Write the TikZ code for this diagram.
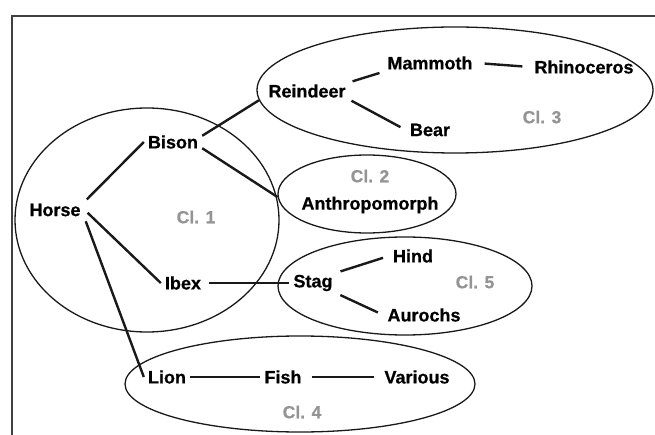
\documentclass[tikz,border=0pt]{standalone}
\usepackage{fontspec}
\setmainfont{Liberation Sans}
\newfontfamily\labelfont[FakeBold=0.6]{Liberation Sans Bold}
\usetikzlibrary{shapes.geometric}

\tikzset{
  taxon/.style={font=\labelfont\fontsize{18}{18}\selectfont, inner xsep=4pt, inner ysep=2pt},
  clabel/.style={font=\labelfont\fontsize{17.5}{17.5}\selectfont, text=black!42, inner sep=0pt},
  cluster/.style={draw=black!90, line width=1.3pt, ellipse, inner sep=0pt},
  link/.style={line width=2.4pt, black!90},
  frame/.style={line width=2.6pt, black!75}
}

\begin{document}
\begin{tikzpicture}[x=1pt,y=-1pt]
  \useasboundingbox (0,0) rectangle (655,435);

  % page frame: top and left edges only
  \draw[frame] (655,16) -- (12,16) -- (12,435);

  % clusters
  \node[cluster, minimum width=264pt, minimum height=224pt] (c1) at (147,220) {};
  \node[cluster, minimum width=178pt, minimum height=78pt]  (c2) at (367,194) {};
  \node[cluster, minimum width=396pt, minimum height=126pt] (c3) at (455,90) {};
  \node[cluster, minimum width=350pt, minimum height=96pt]  (c4) at (300,384) {};
  \node[cluster, minimum width=254pt, minimum height=98pt]  (c5) at (405,286) {};

  % cluster labels
  \node[clabel] (l1) at (196,217) {Cl. 1};
  \node[clabel] (l2) at (370,176) {Cl. 2};
  \node[clabel] (l3) at (542,117) {Cl. 3};
  \node[clabel] (l4) at (302,412) {Cl. 4};
  \node[clabel] (l5) at (475,282) {Cl. 5};

  % taxa
  \node[taxon] (horse)    at (55,210)  {Horse};
  \node[taxon] (bison)    at (173,142) {Bison};
  \node[taxon] (ibex)     at (183,283) {Ibex};
  \node[taxon] (reindeer) at (307,91)  {Reindeer};
  \node[taxon] (mammoth)  at (430,63)  {Mammoth};
  \node[taxon] (rhino)    at (584,67)  {Rhinoceros};
  \node[taxon] (bear)     at (430,130) {Bear};
  \node[taxon] (anthro)   at (370,205) {Anthropomorph};
  \node[taxon] (stag)     at (313,283) {Stag};
  \node[taxon] (hind)     at (413,256) {Hind};
  \node[taxon] (aurochs)  at (424,315) {Aurochs};
  \node[taxon] (lion)     at (167,377) {Lion};
  \node[taxon] (fish)     at (283,377) {Fish};
  \node[taxon] (various)  at (417,377) {Various};

  % links
  \draw[link, shorten <=3pt] (horse.north east) -- (bison.west);
  \draw[link, shorten <=4pt] (horse.east) -- (ibex.west);
  \draw[link, shorten <=3pt] (horse.south east) -- (lion.west);
  \draw[link] (bison.12) -- (c3.183);
  \draw[link] (bison.-12) -- (c2.182);
  \draw[link, shorten <=3pt, shorten >=4pt] (reindeer.north east) -- (mammoth.south west);
  \draw[link, shorten <=2pt, shorten >=6pt] (reindeer.south east) -- (bear.west);
  \draw[link, shorten <=8pt, shorten >=8pt] (mammoth.east) -- (rhino.west);
  \draw[link, shorten <=4pt] (ibex.east) -- (stag.west);
  \draw[link, shorten <=4pt, shorten >=6pt] (stag.north east) -- (hind.west);
  \draw[link, shorten <=4pt, shorten >=6pt] (stag.south east) -- (aurochs.west);
  \draw[link] (lion.east) -- (fish.west);
  \draw[link, shorten <=6pt, shorten >=6pt] (fish.east) -- (various.west);
\end{tikzpicture}
\end{document}
